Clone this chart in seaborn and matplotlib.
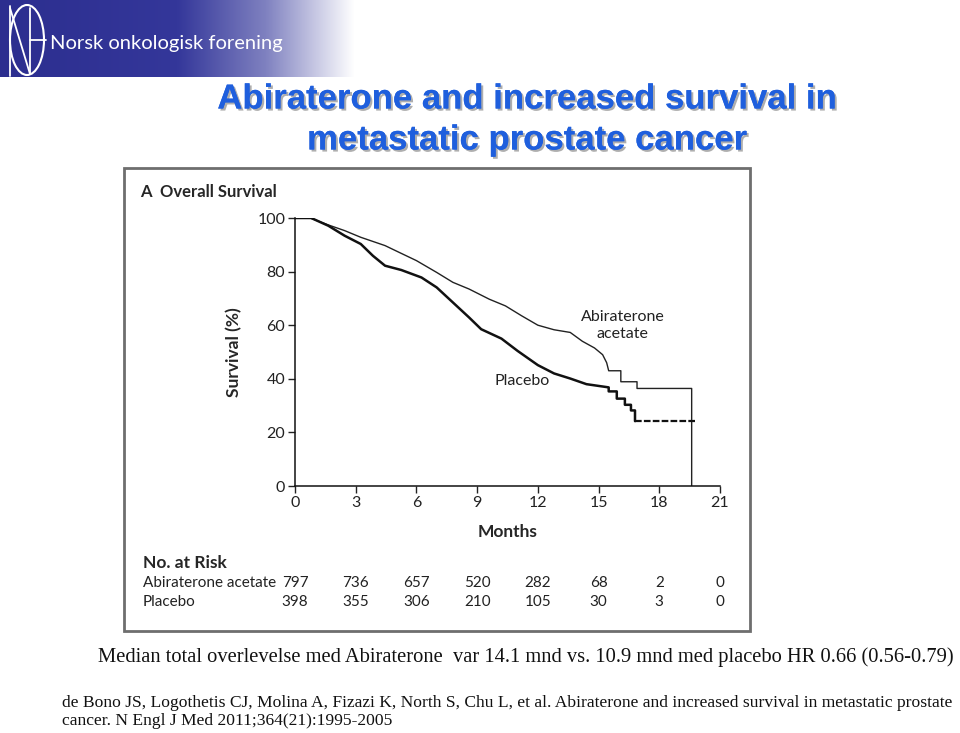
import numpy as np
import pandas as pd
import matplotlib
matplotlib.use("Agg")
import matplotlib.pyplot as plt
import matplotlib.patheffects as pe
import matplotlib.transforms as mtransforms
from matplotlib.colors import LinearSegmentedColormap
from matplotlib.patches import Rectangle, Ellipse
import seaborn as sns

# --- data ---
abi_months = [0, 0.75, 1.65, 2.45, 3.25, 4.45, 5.25, 6.0, 7.0, 7.8, 8.6, 9.6, 10.4,
              11.2, 12.0, 12.8, 13.6, 14.2, 14.8, 15.2, 15.4, 15.5, 16.1, 16.1,
              16.9, 16.9, 19.6, 19.6]
abi_surv = [100, 100, 97.4, 95.3, 92.8, 89.7, 86.8, 84.1, 79.7, 76.0, 73.5, 69.7, 67.2,
            63.5, 60.0, 58.3, 57.3, 54.0, 51.5, 49.0, 46.0, 43.0, 43.0, 38.9,
            38.9, 36.4, 36.4, 0]

plac_months = [0, 0.8, 1.65, 2.45, 3.25, 3.85, 4.45, 5.25, 6.25, 7.0, 7.8, 8.6, 9.2,
               10.2, 11.0, 12.0, 12.8, 13.6, 14.4, 15.5, 15.5, 15.9, 15.9, 16.3,
               16.3, 16.6, 16.6, 16.8, 16.8]
plac_surv = [100, 100, 97.1, 93.4, 90.3, 85.9, 82.2, 80.6, 77.8, 74.1, 68.5, 62.9, 58.5,
             55.0, 50.4, 45.1, 42.0, 40.1, 38.0, 36.8, 35.3, 35.3, 32.6, 32.6,
             30.3, 30.3, 28.2, 28.2, 24.2]
plac_tail_months = [16.8, 19.8]
plac_tail_surv = [24.2, 24.2]

risk_months = [0, 3, 6, 9, 12, 15, 18, 21]
risk_abi = [797, 736, 657, 520, 282, 68, 2, 0]
risk_plac = [398, 355, 306, 210, 105, 30, 3, 0]

df = pd.concat([
    pd.DataFrame({"arm": "Abiraterone acetate", "month": abi_months, "surv": abi_surv}),
    pd.DataFrame({"arm": "Placebo", "month": plac_months, "surv": plac_surv}),
])

sns.set_style("white")
plt.rcParams["font.family"] = ["Lato", "DejaVu Sans"]

W, H = 960, 733
fig = plt.figure(figsize=(9.6, 7.33), dpi=100)


def fx(x):
    return x / W


def fy(y):
    return 1 - y / H


# --- banner ---
bax = fig.add_axes([0, fy(77), fx(355), 77 / H])
cmap = LinearSegmentedColormap.from_list(
    "ban", [(0, "#2C2E8F"), (0.5, "#34379A"), (0.75, "#7F81C0"), (1, "#FFFFFF")])
bax.imshow(np.linspace(0, 1, 256)[None, :], aspect="auto", cmap=cmap,
           extent=[0, 1, 0, 1])
bax.set_axis_off()
fig.patches.append(Ellipse((fx(27), fy(40)), fx(34), 70 / H, transform=fig.transFigure,
                           fill=False, ec="white", lw=1.5))
for xs, ys in [([10, 10], [6, 76]), ([10, 30], [8, 74]), ([30, 30], [8, 74]),
               ([30, 46], [40, 40])]:
    fig.lines.append(plt.Line2D([fx(v) for v in xs], [fy(v) for v in ys],
                                transform=fig.transFigure, color="white", lw=1.3))
fig.text(fx(50), fy(43), "Norsk onkologisk forening", color="white", fontsize=14.5,
         va="center", ha="left", family=["Lato", "DejaVu Sans"])

# --- title ---
shadow = [pe.withSimplePatchShadow(offset=(1.5, -1.5), shadow_rgbFace="#9a9a9a", alpha=0.8),
          pe.Normal()]
for txt, y in [("Abiraterone and increased survival in", 99),
               ("metastatic prostate cancer", 140)]:
    fig.text(fx(527), fy(y), txt, ha="center", va="center", fontsize=25,
             fontweight="bold", color="#1F5FDD", family="Liberation Sans",
             path_effects=shadow)

# --- panel frame ---
fig.patches.append(Rectangle((fx(124), fy(631)), fx(750 - 124), (631 - 168) / H,
                             transform=fig.transFigure, fill=False, ec="#6e6e6e", lw=2))
fig.text(fx(140), fy(192), "A", fontsize=12, fontweight="bold", va="center")
fig.text(fx(160), fy(192), "Overall Survival", fontsize=12, fontweight="bold", va="center")

# --- survival axes ---
ax = fig.add_axes([fx(295), fy(486), fx(425), 268 / H])
sns.lineplot(data=df[df.arm == "Abiraterone acetate"], x="month", y="surv",
             estimator=None, sort=False, color="#222222", lw=1.0, ax=ax)
sns.lineplot(data=df[df.arm == "Placebo"], x="month", y="surv",
             estimator=None, sort=False, color="#111111", lw=1.8, ax=ax)
ax.plot(plac_tail_months, plac_tail_surv, color="#111111", lw=1.6, ls=(0, (3, 1)))
ax.set_xlim(0, 21)
ax.set_ylim(0, 100)
ax.set_xticks(risk_months)
ax.set_yticks([0, 20, 40, 60, 80, 100])
ax.tick_params(axis="both", direction="out", length=5, width=1, labelsize=11.5,
               colors="#222222", left=True, bottom=True, pad=2)
for s in ["top", "right"]:
    ax.spines[s].set_visible(False)
for s in ["left", "bottom"]:
    ax.spines[s].set_color("#111111")
    ax.spines[s].set_linewidth(1.1)
ax.set_xlabel("Months", fontsize=12.5, fontweight="bold", labelpad=10)
ax.set_ylabel("Survival (%)", fontsize=12.5, fontweight="bold", labelpad=4)
ax.yaxis.set_label_coords(-0.125, 0.5)
ax.set_facecolor("none")
ax.text(16.2, 60, "Abiraterone\nacetate", ha="center", va="center", fontsize=11.5,
        color="#222222", linespacing=1.3)
ax.text(11.2, 39, "Placebo", ha="center", va="center", fontsize=11.5, color="#222222")

# --- number at risk ---
tr = mtransforms.blended_transform_factory(ax.transData, fig.transFigure)
fig.text(fx(143), fy(563), "No. at Risk", fontsize=12.5, fontweight="bold", va="center")
fig.text(fx(143), fy(583), "Abiraterone acetate", fontsize=11, va="center", color="#222222")
fig.text(fx(143), fy(602), "Placebo", fontsize=11, va="center", color="#222222")
for m, a, p in zip(risk_months, risk_abi, risk_plac):
    ax.text(m, fy(583), str(a), transform=tr, ha="center", va="center", fontsize=11,
            color="#222222")
    ax.text(m, fy(602), str(p), transform=tr, ha="center", va="center", fontsize=11,
            color="#222222")

# --- footer text ---
serif = ["Liberation Serif", "DejaVu Serif"]
fig.text(fx(98), fy(657), "Median total overlevelse med Abiraterone  var 14.1 mnd vs. "
         "10.9 mnd med placebo HR 0.66 (0.56-0.79)", fontsize=14.8, family=serif,
         va="center", color="#111111")
fig.text(fx(62), fy(703), "de Bono JS, Logothetis CJ, Molina A, Fizazi K, North S, Chu L, "
         "et al. Abiraterone and increased survival in metastatic prostate",
         fontsize=12.6, family=serif, va="center", color="#111111")
fig.text(fx(62), fy(721), "cancer. N Engl J Med 2011;364(21):1995-2005",
         fontsize=12.6, family=serif, va="center", color="#111111")

fig.savefig("out.png", dpi=100)
